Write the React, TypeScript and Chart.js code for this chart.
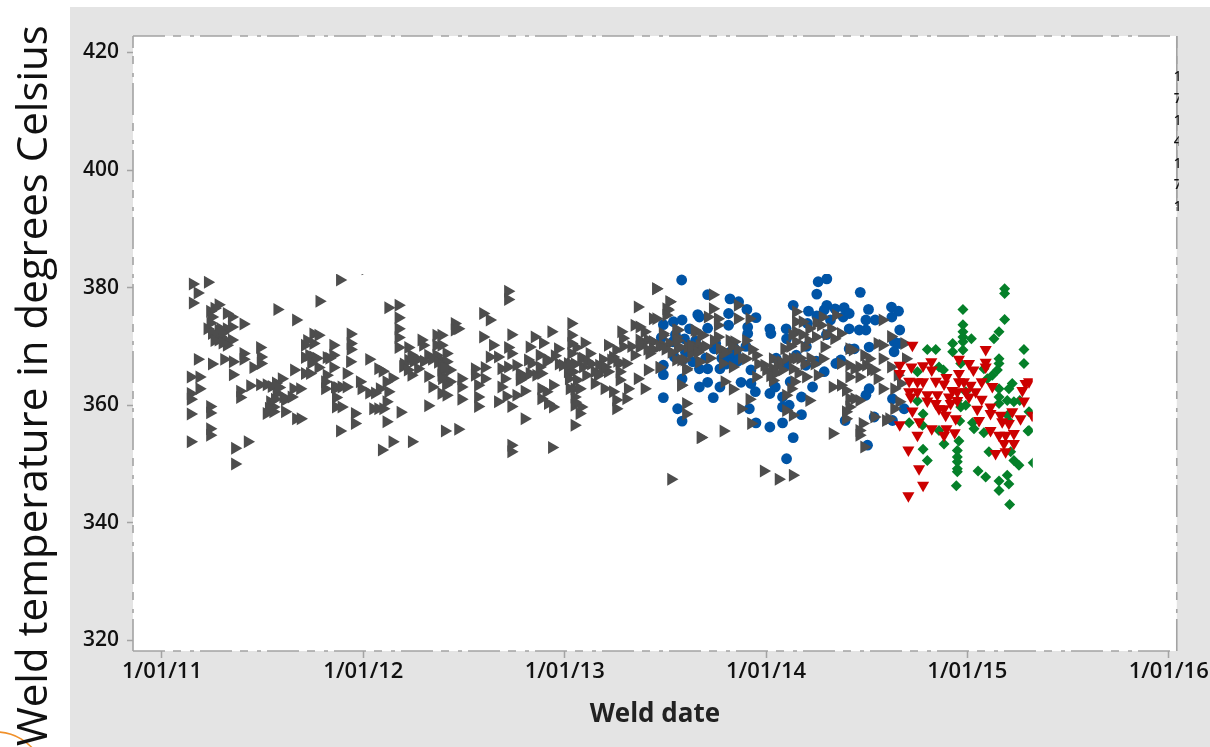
import React, { useEffect, useRef } from "react";
import { Chart, registerables } from "chart.js";

Chart.register(...registerables);

const xTickValues = [2011, 2012, 2013, 2014, 2015, 2016];
const xTickLabels = ["1/01/11", "1/01/12", "1/01/13", "1/01/14", "1/01/15", "1/01/16"];
const yTickValues = [320, 340, 360, 380, 400, 420];
const yAxisTitle = "Weld temperature in degrees Celsius";
const xAxisTitle = "Weld date";
const clippedDigits = ["1", "7", "1", "4", "1", "7", "1"];

const grayPoints = [
[2011.152,380.6],[2011.227,380.9],[2011.176,379.1],[2011.152,377.4],[2011.28,377.1],[2011.238,376],[2011.247,375],[2011.321,375.6],[2011.346,375],[2011.404,373.8],[2011.225,373],[2011.247,372.2],[2011.28,372.8],[2011.321,373],[2011.346,373.3],[2011.288,371.7],[2011.313,371.1],[2011.346,371.1],[2011.321,370.2],[2011.28,371.1],[2011.486,369.8],[2011.404,368.8],[2011.404,367.8],[2011.49,368.2],[2011.49,367.1],[2011.453,366.4],[2011.177,367.8],[2011.247,367],[2011.308,367.8],[2011.351,367.4],[2011.351,365.2],[2011.142,364.8],[2011.185,364.8],[2011.185,362.8],[2011.142,362],[2011.142,361],[2011.387,362.4],[2011.387,361.3],[2011.437,363.3],[2011.486,363.5],[2011.519,363.5],[2011.544,363.2],[2011.594,364.5],[2011.569,363.2],[2011.569,362],[2011.602,361.4],[2011.536,360.6],[2011.552,359.7],[2011.519,358.6],[2011.552,358.9],[2011.61,358.9],[2011.61,360.9],[2011.643,361.4],[2011.652,362.8],[2011.685,362.8],[2011.665,357.7],[2011.688,357.7],[2011.142,358.5],[2011.238,359.8],[2011.238,358.7],[2011.238,356],[2011.238,354.9],[2011.142,353.8],[2011.362,352.7],[2011.425,353.8],[2011.362,350],[2011.572,376.3],[2011.665,374.5],[2011.781,377.7],[2011.883,381.3],[2012.123,376.6],[2012.174,377],[2012.174,374.9],[2012.174,373],[2012.174,371.5],[2012.174,369.8],[2011.751,372.1],[2011.776,371.9],[2011.751,370.5],[2011.709,370.2],[2011.85,370.2],[2011.936,372.1],[2011.936,370.5],[2011.936,369.5],[2011.655,366],[2011.709,368.1],[2011.751,368.2],[2011.767,368],[2011.817,368.1],[2011.85,368.5],[2011.85,366.4],[2011.776,366.4],[2011.709,365.4],[2011.734,365.4],[2011.817,365.1],[2011.933,367.4],[2011.916,365.4],[2012.028,367.8],[2012.073,366.2],[2012.095,365.8],[2012.144,364.6],[2012.114,364],[2011.982,364],[2011.99,362.8],[2012.028,362.1],[2012.057,362.1],[2012.081,362.8],[2012.123,362.3],[2012.114,360.6],[2011.809,364],[2011.809,362.8],[2011.858,363.1],[2011.891,363.1],[2011.916,363.1],[2011.863,361.3],[2011.863,359.7],[2011.891,359.7],[2012.048,359.4],[2012.073,359.4],[2012.098,359.4],[2011.957,358.6],[2011.957,356.9],[2012.114,357.2],[2011.883,355.6],[2012.184,358.8],[2012.321,359.9],[2012.342,363.1],[2012.321,364.9],[2012.238,365.1],[2012.271,366.2],[2012.197,366.6],[2012.222,367.7],[2012.238,368.5],[2012.222,369.8],[2012.288,371.1],[2012.296,370.2],[2012.321,368.5],[2012.362,368.5],[2012.362,371.9],[2012.362,370.2],[2012.144,353.8],[2012.24,353.8],[2012.091,352.4],[2012.01,383.2],
[2012.387,371.9],[2012.387,370.2],[2012.412,368.8],[2012.387,367.7],[2012.412,367.4],[2012.387,366],[2012.429,366],[2012.387,365.1],[2012.429,364],[2012.486,364.5],[2012.486,363.1],[2012.387,362],[2012.412,361.7],[2012.486,361],[2012.453,373.9],[2012.453,372.8],[2012.47,373],[2012.553,366.2],[2012.553,365.1],[2012.602,366.4],[2012.602,364.5],[2012.569,363.4],[2012.569,361.4],[2012.569,359.8],[2012.668,360.6],[2012.71,361.5],[2012.734,359.8],[2012.685,363.1],[2012.701,364.5],[2012.685,366.2],[2012.718,366.5],[2012.759,366.8],[2012.776,365.4],[2012.776,364.3],[2012.8,364.8],[2012.825,365.4],[2012.858,365.1],[2012.883,365.4],[2012.916,367.7],[2012.875,368.5],[2012.817,367.7],[2012.825,369.9],[2012.85,371.6],[2012.891,370.6],[2012.966,369.6],[2012.933,372.5],[2013.032,373.9],[2013.032,371.9],[2013.032,370.5],[2013.057,369.8],[2013.032,368.8],[2013.015,367.1],[2013.04,365.7],[2013.015,365.7],[2013.098,370.6],[2013.123,368.8],[2013.081,368],[2013.09,366.5],[2013.106,365.1],[2013.148,365.7],[2013.164,365.1],[2013.148,363.7],[2013.189,366],[2013.214,365.7],[2013.189,367.8],[2013.214,370.2],[2013.255,369.4],[2013.239,368.2],[2013.272,367.1],[2013.305,367.1],[2013.346,368.5],[2013.272,365.7],[2013.272,364.3],[2013.197,362.8],[2013.239,362.3],[2013.313,362.8],[2013.255,360.9],[2013.255,359.4],[2013.305,361.1],[2013.362,364.5],[2013.396,362.8],[2013.412,366],[2013.47,366.4],[2012.594,375.6],[2012.627,374.5],[2012.594,371.6],[2012.734,372],[2012.643,370.2],[2012.718,369.8],[2012.734,368.8],[2012.627,368.2],[2012.668,368.2],[2012.718,379.4],[2012.718,378],[2013.362,376.7],[2013.453,379.8],[2013.28,372.5],[2013.288,371.4],[2013.346,373.6],[2013.371,373.3],[2013.396,372.5],[2013.371,371.1],[2013.371,369.9],[2013.412,371.1],[2013.437,374.7],[2013.437,370.8],[2013.42,368.8],[2013.519,377.6],[2013.511,376.2],[2013.486,372.2],[2013.561,372.8],[2013.553,371.6],[2013.519,370.5],[2013.553,367.7],[2013.594,367.7],[2013.561,369.6],[2013.61,369.9],[2013.652,372.5],[2013.685,371.9],[2013.652,369.9],[2013.677,369.9],[2013.668,367.4],[2013.602,366],[2013.577,363.4],[2013.602,360.3],[2013.602,358.5],[2013.677,354.5],[2013.528,347.4],[2012.883,362.8],[2012.883,361.1],[2012.908,362.3],[2012.941,363.4],[2012.916,360.3],[2012.941,359.7],[2013.048,362.8],[2013.024,362.8],[2013.073,362.8],[2013.048,361.4],[2013.048,360],[2013.081,359.7],[2013.073,358.6],[2013.048,356.6],[2012.8,357.7],[2012.734,353.2],[2012.734,352.1],[2012.936,352.8],[2012.404,355.6],[2012.47,355.9],[2012.759,361.7],[2012.8,362.4],[2013.23,367.7],[2012.875,366.5],[2012.834,367.1],[2012.908,367.4],
[2013.454,379.8],[2013.52,377.6],[2013.504,376.4],[2013.504,375.3],[2013.454,374.7],[2013.553,372.8],[2013.487,371.9],[2013.438,370.8],[2013.487,370.2],[2013.57,369.9],[2013.644,372.8],[2013.677,371.9],[2013.628,370.2],[2013.669,370.2],[2013.628,368.8],[2013.669,367.4],[2013.578,367.7],[2013.603,366.2],[2013.471,366.4],[2013.735,378.8],[2013.735,376.4],[2013.71,375],[2013.76,374.7],[2013.76,373.6],[2013.76,371.6],[2013.818,371],[2013.842,370.8],[2013.785,368.8],[2013.785,367.1],[2013.834,366.5],[2013.859,377],[2013.859,374.7],[2013.917,374.7],[2013.9,371],[2013.9,367.9],[2013.95,368.5],[2013.991,366.8],[2014.033,367.9],[2014.033,366.2],[2014.033,364.2],[2014.057,366.8],[2014.074,367.4],[2014.09,369.6],[2014.148,375.9],[2014.148,374.2],[2014.148,372.5],[2014.148,370.8],[2014.181,374.2],[2014.214,373],[2014.272,373.6],[2014.347,375.3],[2014.322,373],[2014.371,372.2],[2014.338,371.3],[2014.289,369.9],[2014.247,371.6],[2014.19,369.9],[2014.132,367.9],[2014.132,366.2],[2014.198,364.8],[2014.256,365.1],[2014.281,367.9],[2014.124,362.8],[2014.099,361.7],[2014.099,359.1],[2014.132,358.3],[2014.214,360.8],[2013.793,364],[2013.834,362.7],[2013.917,361],[2013.876,359.4],[2013.925,356.9],[2013.578,363.4],[2013.674,354.5],[2013.788,355.6],[2014.33,355.2],[2013.988,348.8],[2014.062,347.4],[2014.132,348.1],[2013.95,364.8],[2014.413,366.8],[2014.371,367.1],[2014.33,363.1],[2014.371,363.4],[2014.396,362.5],[2014.396,358.9],[2014.413,361.1],[2014.396,357.7],
[2014.413,369.6],[2014.43,369.4],[2014.487,368.5],[2014.496,366.8],[2014.463,366.5],[2014.52,366],[2014.578,370.2],[2014.553,370.5],[2014.62,371.7],[2014.686,370.5],[2014.694,367.9],[2014.62,366.5],[2014.578,374.5],[2014.438,366.2],[2014.413,364.8],[2014.463,364.8],[2014.553,364.5],[2014.537,366],[2014.578,362.8],[2014.636,362.8],[2014.669,363.7],[2014.438,361.1],[2014.463,360.8],[2014.413,359.7],[2014.661,360.6],[2014.636,359.4],[2014.537,358],[2014.479,356.9],[2014.463,355.7],[2014.463,354.9],[2014.611,357.7],[2014.595,357.4],[2014.487,352.9],[2014.512,367.9],[2014.578,367.9],[2014.653,365.1],
[2011.27,372],[2011.29,373],[2011.3,372.3],[2011.26,371],[2011.3,370.6],[2011.24,374],[2011.26,376.5],[2011.565,363.8],[2011.58,363],[2011.56,361],[2011.53,359.5],[2011.73,368.5],[2011.74,367.2],[2011.72,371],[2011.83,368],[2011.87,363],[2012.2,367],[2012.22,366],[2012.25,367.5],[2012.27,367.8],[2012.3,367.5],[2012.34,367.8],[2012.37,367.3],[2012.39,366.8],[2012.4,365.9],[2012.39,364.5],[2012.41,363.5],[2012.4,366.4],[2012.95,368.4],[2012.97,367],[2012.99,366.8],[2013.03,367],[2013.05,367],[2013.02,364.5],[2013.06,364.3],[2013.05,360.5],[2013.09,368],[2013.11,367.5],[2013.13,367],[2013.17,366.8],[2013.2,366.5],[2013.26,367.5],[2013.29,370],[2013.33,370],[2013.38,370.5],[2013.41,369.5],[2013.44,369.5],[2013.47,370],[2013.5,369.5],[2013.53,369],[2013.56,371],[2013.63,370],[2013.66,369],[2013.7,370],[2013.72,368],[2013.74,371],[2013.77,369.6],[2013.8,369],[2013.83,370],[2013.86,369.5],[2013.88,368],[2013.93,369.5],[2013.96,367],[2014,366],[2014.02,365],[2014.05,365.5],[2014.08,366],[2014.1,368],[2014.12,370],[2014.15,368],[2014.17,368],[2014.19,367],[2014.22,368],[2014.24,367],[2014.16,365.5],[2014.14,364],[2014.18,372],[2014.21,371],[2014.25,374],[2014.3,372],[2014.28,375],[2014.13,372]
];

const bluePoints = [
[2013.581,381.3],[2013.71,378.8],[2013.821,378.1],[2013.864,377.6],[2013.905,376.3],[2013.95,374.9],[2013.661,375.4],[2013.669,375],[2013.49,373.7],[2013.54,374.2],[2013.583,374.5],[2013.71,373.1],[2013.814,375.6],[2013.814,373.6],[2013.909,373.3],[2013.909,372.2],[2014.019,373],[2014.024,372.2],[2014.102,371.3],[2014.135,377],[2014.211,376],[2014.252,375.2],[2014.259,381],[2014.302,381.5],[2014.252,378.9],[2014.302,377],[2014.289,376.2],[2014.343,376.4],[2014.388,376.6],[2014.383,375],[2014.206,373.9],[2013.49,366.8],[2013.49,365.2],[2013.545,368.2],[2013.583,364.5],[2013.669,366.2],[2013.71,366.2],[2013.771,366.2],[2013.669,363.1],[2013.71,363.9],[2013.771,363.1],[2013.876,363.9],[2013.925,366],[2013.925,363.7],[2013.947,362.3],[2014.019,362],[2014.046,363.1],[2014.082,361.4],[2014.082,359.7],[2014.176,361.4],[2014.231,363.1],[2013.49,361.3],[2013.738,361.3],[2013.561,359.4],[2013.583,357.3],[2013.917,359.4],[2013.95,357],[2014.019,356.3],[2014.082,357],[2014.176,358.4],[2014.135,354.5],[2014.102,350.9],[2013.743,369.6],[2013.818,367.7],[2013.851,368.8],[2013.595,371.3],[2014.099,366.8],[2014.198,366.8],[2014.289,365.7],[2014.347,367.1],[2014.371,367.7],[2014.393,357.4],[2013.636,367.4],[2013.586,367.7],[2013.537,370.8],[2014.413,369.6],[2014.115,360],[2013.83,368.5],[2013.846,368.5],
[2014.468,379.2],[2014.509,376.3],[2014.623,376.7],[2014.658,376],[2014.625,375],[2014.542,374.5],[2014.496,374.5],[2014.496,372.8],[2014.463,372.8],[2014.664,372.8],[2014.636,370.8],[2014.636,369.1],[2014.438,369.6],[2014.512,369.9],[2014.661,370.5],[2014.512,362.8],[2014.496,361.7],[2014.628,361.1],[2014.686,359.4],[2014.537,358],[2014.628,357.4],[2014.504,353.2],[2014.413,375.6],[2014.413,373],
[2013.82,369],[2013.84,369.8],[2013.86,367.5],[2013.8,367],[2013.78,368],[2013.7,368],[2013.65,371],[2013.6,369],[2013.75,370.5],[2013.9,370],[2014.2,370],[2014.25,367.5],[2014.15,368.5],[2014.12,364],[2014.3,372],[2014.05,368],[2013.55,372],[2013.48,371.5],[2013.62,373],[2014.32,374.5],[2014.1,373]
];

const greenPoints = [
[2015.185,379.8],[2015.185,379],[2014.978,376.3],[2015.185,374.6],[2014.978,373.7],[2015.157,372.5],[2015.132,371.3],[2014.978,372.5],[2014.978,371.6],[2014.978,370.8],[2015.02,371.3],[2014.927,370.5],[2014.801,369.5],[2014.843,369.5],[2014.927,369.1],[2014.978,369.4],[2015.281,369.5],[2015.157,367.9],[2015.157,367.1],[2015.281,367.1],[2014.859,366.5],[2014.881,366],[2014.752,365.7],[2014.967,367.1],[2015.082,366.2],[2015.149,366],[2015.124,365.1],[2015.099,364.5],[2015.223,363.7],[2015.206,362.8],[2015.157,362.8],[2015.157,361.4],[2015.157,360.3],[2015.198,360.8],[2015.231,360.6],[2014.752,360.7],[2014.95,360.8],[2014.967,359.7],[2014.992,360],[2014.78,358.5],[2015.306,358.9],[2014.711,357],[2014.777,356.6],[2014.962,357.3],[2015.025,357],[2015.033,356],[2014.859,355.7],[2015.082,355.3],[2015.206,357.3],[2015.301,355.6],[2014.884,353.4],[2014.958,353.9],[2014.78,352.5],[2014.95,352.3],[2014.95,351.2],[2014.95,350.4],[2014.95,349.2],[2015.107,352.1],[2015.215,352.1],[2014.801,350.6],[2015.231,350.6],[2015.256,349.8],[2015.053,348.8],[2015.091,347.8],[2015.198,348.1],[2015.157,347.1],[2015.206,346.6],[2014.945,346.3],[2015.157,345.5],[2015.21,343.1],[2015.327,350.2],[2014.95,348.7],[2014.992,362.3],[2015.2,358.3],[2015.26,360.8],[2015.306,355.7]
];

const redPoints = [
[2014.727,370.2],[2015.091,369.5],[2014.821,367.4],[2014.958,367.8],[2015.008,367.1],[2015.091,367.3],[2015.091,366.5],[2014.664,366.8],[2014.722,366.5],[2014.78,366.7],[2014.823,366],[2015.03,366],[2014.664,365.4],[2014.958,365.4],[2014.896,364.7],[2014.711,364.1],[2014.752,364],[2014.78,364],[2014.843,364.1],[2014.884,363.6],[2014.958,364],[2014.983,364],[2015.071,364],[2015.124,363.2],[2015.016,363.4],[2014.711,362.3],[2014.752,362.3],[2014.801,361.8],[2014.851,361.8],[2014.925,362.5],[2014.95,362.3],[2014.992,362.3],[2015.041,362.3],[2015.289,363.7],[2015.306,364],[2015.273,362.5],[2014.719,361.4],[2014.801,360.7],[2014.843,360.3],[2014.909,361.4],[2014.95,360.8],[2015.008,361.4],[2015.071,361],[2015.281,360.7],[2014.859,359.4],[2014.884,359.4],[2014.917,360.3],[2014.727,359],[2014.892,358.3],[2015.049,359.3],[2015.115,359.7],[2015.115,358.6],[2014.942,357.7],[2015.058,357.4],[2015.165,358.3],[2015.223,358.9],[2015.264,357.7],[2014.664,356.7],[2014.76,357.2],[2014.823,356],[2014.752,354.9],[2014.896,356],[2014.884,354.9],[2014.937,355.3],[2015.115,355.7],[2015.173,357.2],[2015.206,356.9],[2015.157,354.9],[2015.19,354.9],[2015.231,355.2],[2015.14,351.8],[2015.19,352.1],[2014.707,352.4],[2014.76,349.2],[2014.78,346.4],[2014.707,344.6],[2015.231,353.5],[2015.182,353.5],[2015.322,358.3]
];

const toXY = (pts: number[][]) => pts.map(([x, y]) => ({ x, y }));

const pagePlugin = {
  id: "pagePlugin",
  beforeDraw(chart: any) {
    const { ctx, chartArea: a, width, height } = chart;
    ctx.save();
    ctx.fillStyle = "#ffffff";
    ctx.fillRect(0, 0, width, height);
    ctx.fillStyle = "#e4e4e4";
    ctx.fillRect(70, 7, width - 70, height - 7);
    ctx.fillStyle = "#ffffff";
    ctx.fillRect(a.left, a.top, a.right - a.left, a.bottom - a.top);
    ctx.restore();
  },
  afterDraw(chart: any) {
    const { ctx, chartArea: a } = chart;
    ctx.save();
    // dash-dot plot frame
    ctx.strokeStyle = "#a3a3a3";
    ctx.lineWidth = 1.6;
    ctx.setLineDash([32, 8, 8, 9, 4, 6]);
    const line = (x0: number, y0: number, x1: number, y1: number, off: number) => {
      ctx.lineDashOffset = off;
      ctx.beginPath();
      ctx.moveTo(x0, y0);
      ctx.lineTo(x1, y1);
      ctx.stroke();
    };
    line(a.left, a.top, a.right, a.top, 0);
    line(a.left, a.bottom, a.right, a.bottom, 0);
    line(a.left, a.top, a.left, a.bottom, 20);
    line(a.right, a.top, a.right, a.bottom, 20);
    ctx.setLineDash([]);
    line(a.right, a.top, a.right, a.top + 170, 0);

    // clipped digits at the right frame
    ctx.save();
    ctx.beginPath();
    ctx.rect(a.right - 3, a.top + 30, 5, 173);
    ctx.clip();
    ctx.fillStyle = "#111111";
    ctx.font = "600 14px 'Open Sans'";
    ctx.textAlign = "left";
    ctx.textBaseline = "middle";
    clippedDigits.forEach((d, i) => ctx.fillText(d, a.right - 3, 77.5 + i * 21.6));
    ctx.restore();

    // orange arc, bottom-left
    ctx.strokeStyle = "#f0902a";
    ctx.lineWidth = 1.6;
    ctx.beginPath();
    ctx.arc(-4, 781, 49, -Math.PI / 2, -0.5);
    ctx.stroke();

    // y axis title, runs past the plot height
    ctx.fillStyle = "#111111";
    ctx.font = "42px 'Open Sans'";
    ctx.textAlign = "left";
    ctx.textBaseline = "alphabetic";
    ctx.translate(47, 746);
    ctx.rotate(-Math.PI / 2);
    ctx.fillText(yAxisTitle, 0, 0);
    ctx.restore();
  },
};

export default function App() {
  const ref = useRef<HTMLCanvasElement>(null);
  useEffect(() => {
    const markerClip = { left: 0, top: -238, right: -144, bottom: 0 };
    const chart = new Chart(ref.current as HTMLCanvasElement, {
      type: "scatter",
      plugins: [pagePlugin],
      data: {
        datasets: [
          { label: "Red", data: toXY(redPoints), pointStyle: "triangle", rotation: 180, radius: 7, backgroundColor: "#cc0000", borderWidth: 0, clip: markerClip },
          { label: "Green", data: toXY(greenPoints), pointStyle: "rectRot", radius: 5.5, backgroundColor: "#058029", borderWidth: 0, clip: markerClip },
          { label: "Gray", data: toXY(grayPoints), pointStyle: "triangle", rotation: 90, radius: 7.5, backgroundColor: "#4d4d4d", borderWidth: 0, clip: markerClip },
          { label: "Blue", data: toXY(bluePoints), pointStyle: "circle", radius: 5.4, backgroundColor: "#0054a6", borderWidth: 0, clip: markerClip },
        ],
      } as any,
      options: {
        animation: false,
        responsive: false,
        layout: { padding: { top: 36, right: 32, left: 0, bottom: 0 } },
        plugins: { legend: { display: false }, tooltip: { enabled: false } },
        scales: {
          x: {
            type: "linear",
            min: 2010.856,
            max: 2016.04,
            afterBuildTicks: (s: any) => { s.ticks = xTickValues.map((value) => ({ value })); },
            afterFit: (s: any) => { s.height = 96; },
            border: { display: false },
            grid: { drawOnChartArea: false, drawTicks: true, tickLength: 7, tickColor: "#a3a3a3", tickWidth: 1.5 },
            ticks: {
              autoSkip: false,
              maxRotation: 0,
              padding: 1,
              color: "#111111",
              font: { family: "'Open Sans'", size: 22, weight: "600" },
              callback: (v: any) => xTickLabels[xTickValues.indexOf(Number(v))],
            },
            title: { display: true, text: xAxisTitle, color: "#222222", font: { family: "'Open Sans'", size: 26, weight: "700" }, padding: { top: 3, bottom: 17 } },
          },
          y: {
            type: "linear",
            min: 318.2,
            max: 422.8,
            afterBuildTicks: (s: any) => { s.ticks = yTickValues.map((value) => ({ value })); },
            afterFit: (s: any) => { s.width = 133; },
            border: { display: false },
            grid: { drawOnChartArea: false, drawTicks: true, tickLength: 6, tickColor: "#a3a3a3", tickWidth: 1.5 },
            ticks: {
              autoSkip: false,
              padding: 8,
              color: "#111111",
              font: { family: "'Open Sans'", size: 21, weight: "600" },
            },
          },
        },
      } as any,
    });
    return () => chart.destroy();
  }, []);
  return (
    <div style={{ position: "fixed", left: 0, top: 0, width: 1210, height: 747, overflow: "hidden" }}>
      <canvas ref={ref} width={1210} height={747} style={{ display: "block" }} />
    </div>
  );
}
